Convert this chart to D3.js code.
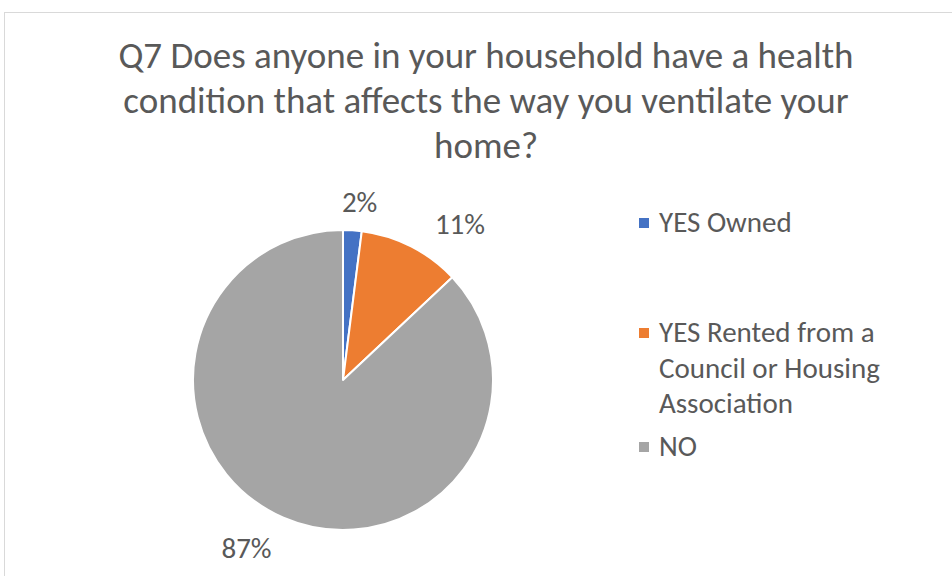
<!DOCTYPE html>
<html>
<head>
<meta charset="utf-8">
<script src="https://cdn.jsdelivr.net/npm/d3@7"></script>
<style>
  html, body { margin: 0; padding: 0; background: #fff; }
  svg { display: block; }
</style>
</head>
<body>
<svg id="chart" width="952" height="576"></svg>
<script>
// Survey answers for Q7
const categories = ["YES Owned", "YES Rented from a Council or Housing Association", "NO"];
const values = [2, 11, 87];
const valueLabels = ["2%", "11%", "87%"];
const legendLines = [["YES Owned"], ["YES Rented from a", "Council or Housing", "Association"], ["NO"]];
const titleLines = [
  "Q7 Does anyone in your household have a health",
  "condition that affects the way you ventilate your",
  "home?"
];

const colors = ["#4472c4", "#ed7d31", "#a5a5a5"];
const fontFamily = "Carlito, Calibri, Lato, sans-serif";
const textColor = "#595959";

const svg = d3.select("#chart");
const W = 952, H = 576;

// chart area frame
svg.append("rect")
  .attr("x", 4.5).attr("y", 12.5)
  .attr("width", W + 10).attr("height", H + 10)
  .attr("fill", "#fff")
  .attr("stroke", "#d9d9d9").attr("stroke-width", 1);

// title
const title = svg.append("text")
  .attr("text-anchor", "middle")
  .attr("fill", textColor)
  .style("font-family", fontFamily)
  .style("font-size", "37px");
titleLines.forEach((t, i) => {
  title.append("tspan").attr("x", 486).attr("y", 68 + i * 45).text(t);
});

// pie
const cx = 343, cy = 380, radius = 150;
const pie = d3.pie().sort(null).value(d => d)(values);
const arc = d3.arc().innerRadius(0).outerRadius(radius);
const g = svg.append("g").attr("transform", `translate(${cx},${cy})`);

g.selectAll("path.slice")
  .data(pie)
  .join("path")
  .attr("class", "slice")
  .attr("d", arc)
  .attr("fill", (d, i) => colors[i])
  .attr("stroke", "#fff")
  .attr("stroke-width", 2)
  .attr("stroke-linejoin", "round");

// data labels outside the slices (baseline placement, nudged off the arc)
const labelArc = d3.arc().innerRadius(185).outerRadius(185);
const labelNudge = [[5, 17], [33, 19], [-23, 8]];
g.selectAll("text.val")
  .data(pie)
  .join("text")
  .attr("class", "val")
  .attr("transform", (d, i) => {
    const [x, y] = labelArc.centroid(d);
    return `translate(${x + labelNudge[i][0]},${y + labelNudge[i][1]})`;
  })
  .attr("text-anchor", "middle")
  .attr("fill", textColor)
  .style("font-family", fontFamily)
  .style("font-size", "29px")
  .text((d, i) => valueLabels[i]);

// legend
const legendBase = [232, 342, 456];
const lg = svg.append("g");
categories.forEach((c, i) => {
  const item = lg.append("g");
  item.append("rect")
    .attr("x", 639).attr("y", legendBase[i] - 14)
    .attr("width", 10).attr("height", 10)
    .attr("fill", colors[i]);
  const t = item.append("text")
    .attr("fill", textColor)
    .style("font-family", fontFamily)
    .style("font-size", "29px");
  legendLines[i].forEach((line, j) => {
    t.append("tspan").attr("x", 659).attr("y", legendBase[i] + j * 35.5).text(line);
  });
});
</script>
</body>
</html>
